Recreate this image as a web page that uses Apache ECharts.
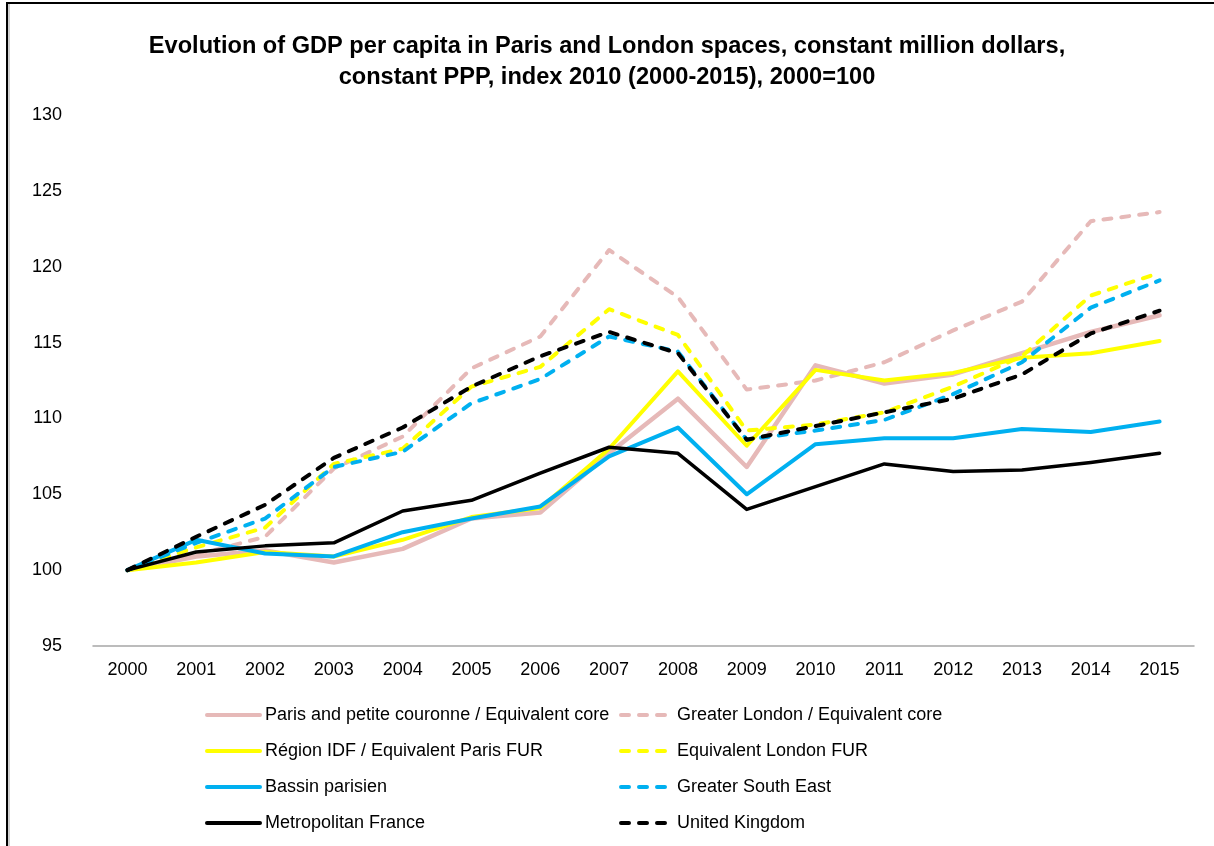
<!DOCTYPE html>
<html>
<head>
<meta charset="utf-8">
<script src="https://cdn.jsdelivr.net/npm/echarts@6/dist/echarts.min.js"></script>
<style>
html,body{margin:0;padding:0;background:#fff;}
#chart{width:1214px;height:846px;}
</style>
</head>
<body>
<div id="chart"></div>
<script>
var years = ['2000','2001','2002','2003','2004','2005','2006','2007','2008','2009','2010','2011','2012','2013','2014','2015'];
var parisCore   = [100,100.9,101.3,100.5,101.4,103.4,103.8,107.7,111.3,106.8,113.5,112.3,112.9,114.3,115.7,116.8];
var londonCore  = [100,101.0,102.2,106.7,108.8,113.3,115.4,121.1,118.0,111.9,112.5,113.7,115.8,117.7,123.0,123.6];
var regionIDF   = [100,100.5,101.2,100.9,102.0,103.5,104.1,108.0,113.1,108.2,113.2,112.5,113.0,114.0,114.3,115.1];
var londonFUR   = [100,101.5,102.8,107.0,108.0,112.1,113.4,117.2,115.5,109.2,109.6,110.4,112.1,114.1,118.1,119.6];
var bassin      = [100,102.0,101.1,100.9,102.5,103.4,104.2,107.5,109.4,105.0,108.3,108.7,108.7,109.3,109.1,109.8];
var gse         = [100,101.8,103.4,106.8,107.8,111.0,112.6,115.4,114.4,108.6,109.2,109.9,111.6,113.7,117.3,119.1];
var metroFrance = [100,101.2,101.6,101.8,103.9,104.6,106.4,108.1,107.7,104.0,105.5,107.0,106.5,106.6,107.1,107.7];
var uk          = [100,102.2,104.3,107.4,109.4,112.1,114.1,115.7,114.3,108.6,109.5,110.4,111.3,112.9,115.6,117.1];

var names = {
  parisCore: 'Paris and petite couronne / Equivalent core',
  londonCore: 'Greater London / Equivalent core',
  regionIDF: 'Région IDF / Equivalent Paris FUR',
  londonFUR: 'Equivalent London FUR',
  bassin: 'Bassin parisien',
  gse: 'Greater South East',
  metroFrance: 'Metropolitan France',
  uk: 'United Kingdom'
};

var PINK = '#E6B9B8', YEL = '#FFFF00', BLUE = '#00B0F0', BLK = '#000000';
var DASH = [8, 10];

function mk(name, data, color, dashed, width) {
  return {
    name: name, type: 'line', data: data, symbol: 'none', smooth: false,
    lineStyle: { color: color, width: width || 4, type: dashed ? DASH : 'solid', cap: 'round', join: 'round' },
    itemStyle: { color: color },
    emphasis: { disabled: true },
    z: 2
  };
}

var chart = echarts.init(document.getElementById('chart'), null, { renderer: 'canvas' });
var FONT = 'Liberation Sans, Arial, sans-serif';
var legendCommon = {
  orient: 'vertical', top: 701, itemHeight: 20, itemGap: 18,
  textStyle: { fontFamily: FONT, fontSize: 18, color: '#000' },
  itemStyle: { opacity: 0 },
  lineStyle: { width: 4 },
  selectedMode: false
};
chart.setOption({
  animation: false,
  backgroundColor: '#fff',
  title: {
    text: 'Evolution of GDP per capita in Paris and London spaces, constant million dollars,\nconstant PPP, index 2010 (2000-2015), 2000=100',
    left: 'center', top: 26,
    textStyle: { fontFamily: 'Liberation Sans Narrow, Arial Narrow, sans-serif', fontWeight: 'bold', fontSize: 23.6, lineHeight: 31, color: '#000' }
  },
  legend: [
    Object.assign({}, legendCommon, {
      left: 200, itemWidth: 53,
      data: [names.parisCore, names.regionIDF, names.bassin, names.metroFrance]
    }),
    Object.assign({}, legendCommon, {
      left: 614, itemWidth: 51,
      data: [names.londonCore, names.londonFUR, names.gse, names.uk]
    })
  ],
  grid: { left: 93, right: 20, top: 115, bottom: 200, containLabel: false },
  xAxis: {
    type: 'category', data: years, boundaryGap: true,
    axisLine: { show: true, lineStyle: { color: '#A6A6A6', width: 1.5 } },
    axisTick: { show: false },
    axisLabel: { fontFamily: FONT, fontSize: 18, color: '#000', margin: 15 },
    splitLine: { show: false }
  },
  yAxis: {
    type: 'value', min: 95, max: 130, interval: 5,
    axisLine: { show: false }, axisTick: { show: false },
    axisLabel: { fontFamily: FONT, fontSize: 18, color: '#000', margin: 31 },
    splitLine: { show: false }
  },
  graphic: [
    { type: 'line', shape: { x1: 7, y1: 3, x2: 7, y2: 846 }, style: { stroke: '#000', lineWidth: 2 }, silent: true },
    { type: 'line', shape: { x1: 9, y1: 4, x2: 9, y2: 846 }, style: { stroke: '#A0A0A0', lineWidth: 1 }, silent: true },
    { type: 'line', shape: { x1: 6, y1: 3, x2: 1214, y2: 3 }, style: { stroke: '#000', lineWidth: 2 }, silent: true }
  ],
  series: [
    mk(names.parisCore, parisCore, PINK, false, 4.5),
    mk(names.londonCore, londonCore, PINK, true),
    mk(names.regionIDF, regionIDF, YEL, false),
    mk(names.londonFUR, londonFUR, YEL, true),
    mk(names.bassin, bassin, BLUE, false),
    mk(names.gse, gse, BLUE, true),
    mk(names.metroFrance, metroFrance, BLK, false, 3.5),
    mk(names.uk, uk, BLK, true)
  ]
});
</script>
</body>
</html>
